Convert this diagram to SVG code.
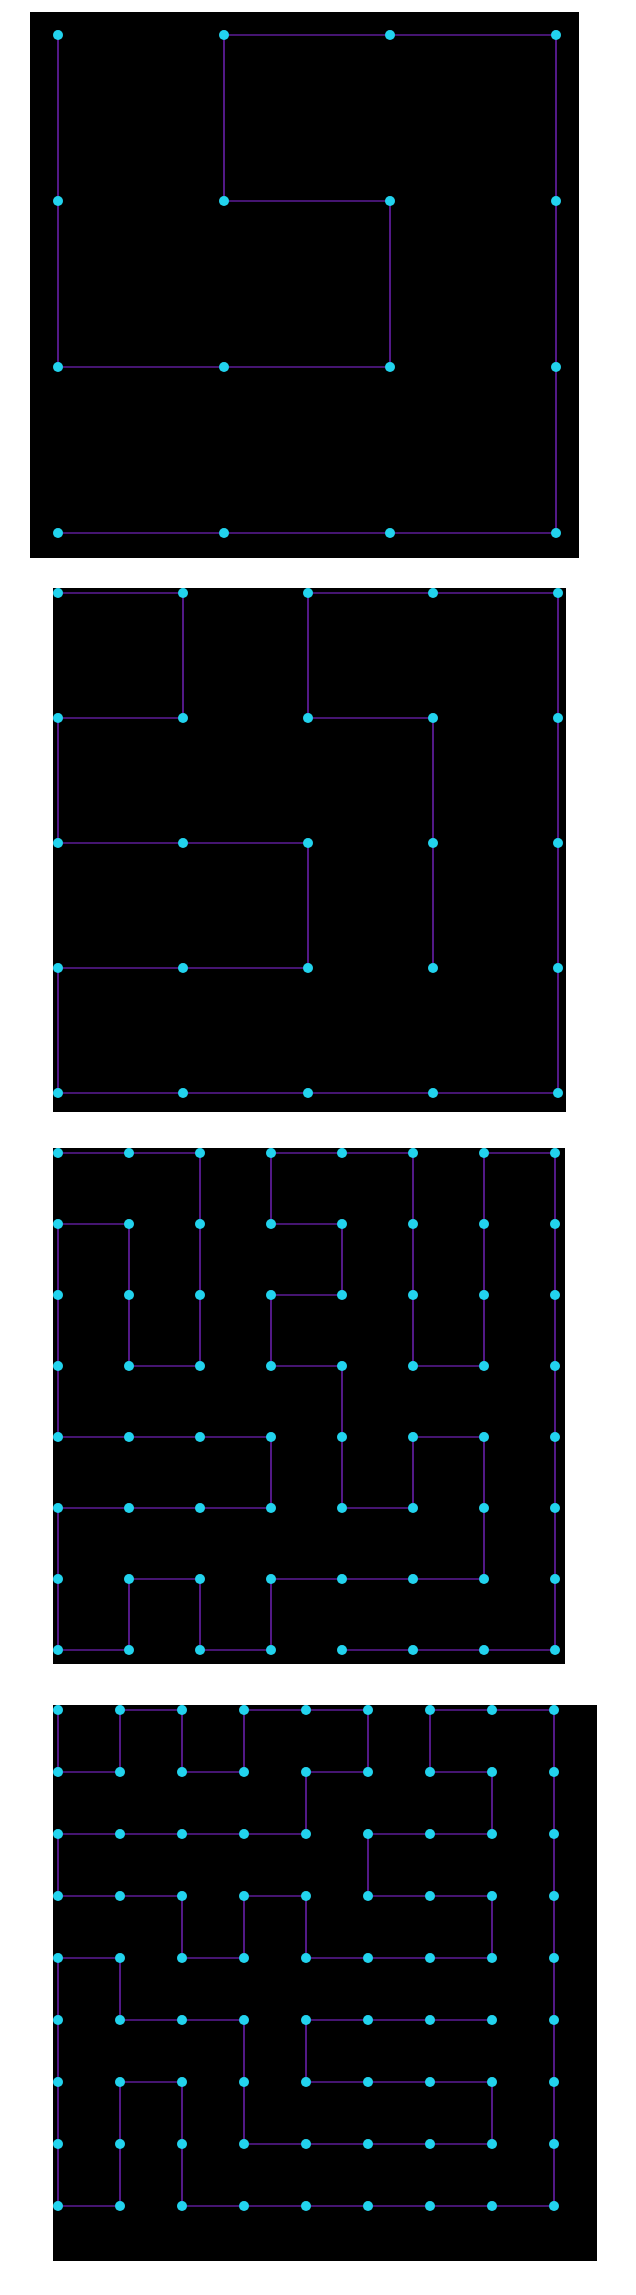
<svg xmlns="http://www.w3.org/2000/svg" width="636" height="2295" viewBox="0 0 636 2295">
<style>
.bg{fill:#000}
.e path{stroke:#8a2be2;stroke-width:1.2;fill:none}
.n circle{fill:#22d3ee}
</style>
<rect width="636" height="2295" fill="#fff"/>
<rect class="bg" x="30" y="12" width="549" height="546"/>
<rect class="bg" x="53" y="588" width="513" height="524"/>
<rect class="bg" x="53" y="1148" width="512" height="516"/>
<rect class="bg" x="53" y="1705" width="544" height="556"/>
<g id="connectors" class="e">
<g id="p1-edges">
<path d="M58 35V201"/><path d="M58 201V367"/><path d="M224 35H390"/><path d="M390 35H556"/><path d="M224 35V201"/><path d="M224 201H390"/><path d="M390 201V367"/><path d="M58 367H224"/><path d="M224 367H390"/><path d="M556 35V201"/><path d="M556 201V367"/><path d="M556 367V533"/><path d="M58 533H224"/><path d="M224 533H390"/><path d="M390 533H556"/>
</g>
<g id="p2-edges">
<path d="M58 593H183"/><path d="M183 593V718"/><path d="M308 593H433"/><path d="M433 593H558"/><path d="M308 593V718"/><path d="M558 593V718"/>
<path d="M58 718H183"/><path d="M308 718H433"/><path d="M433 718V843"/><path d="M558 718V843"/><path d="M58 718V843"/>
<path d="M58 843H183"/><path d="M183 843H308"/><path d="M308 843V968"/><path d="M433 843V968"/><path d="M558 843V968"/>
<path d="M58 968H183"/><path d="M183 968H308"/><path d="M58 968V1093"/><path d="M558 968V1093"/>
<path d="M58 1093H183"/><path d="M183 1093H308"/><path d="M308 1093H433"/><path d="M433 1093H558"/>
</g>
<g id="p3-edges">
<path d="M58 1153H129"/><path d="M129 1153H200"/><path d="M271 1153H342"/><path d="M342 1153H413"/><path d="M484 1153H555"/>
<path d="M200 1153V1224"/><path d="M271 1153V1224"/><path d="M413 1153V1224"/><path d="M484 1153V1224"/><path d="M555 1153V1224"/>
<path d="M58 1224H129"/><path d="M271 1224H342"/>
<path d="M58 1224V1295"/><path d="M129 1224V1295"/><path d="M200 1224V1295"/><path d="M342 1224V1295"/><path d="M413 1224V1295"/><path d="M484 1224V1295"/><path d="M555 1224V1295"/>
<path d="M271 1295H342"/>
<path d="M58 1295V1366"/><path d="M129 1295V1366"/><path d="M200 1295V1366"/><path d="M271 1295V1366"/><path d="M413 1295V1366"/><path d="M484 1295V1366"/><path d="M555 1295V1366"/>
<path d="M129 1366H200"/><path d="M271 1366H342"/><path d="M413 1366H484"/>
<path d="M58 1366V1437"/><path d="M342 1366V1437"/><path d="M555 1366V1437"/>
<path d="M58 1437H129"/><path d="M129 1437H200"/><path d="M200 1437H271"/><path d="M413 1437H484"/>
<path d="M271 1437V1508"/><path d="M342 1437V1508"/><path d="M413 1437V1508"/><path d="M484 1437V1508"/><path d="M555 1437V1508"/>
<path d="M58 1508H129"/><path d="M129 1508H200"/><path d="M200 1508H271"/><path d="M342 1508H413"/>
<path d="M58 1508V1579"/><path d="M484 1508V1579"/><path d="M555 1508V1579"/>
<path d="M129 1579H200"/><path d="M271 1579H342"/><path d="M342 1579H413"/><path d="M413 1579H484"/>
<path d="M58 1579V1650"/><path d="M129 1579V1650"/><path d="M200 1579V1650"/><path d="M271 1579V1650"/><path d="M555 1579V1650"/>
<path d="M58 1650H129"/><path d="M200 1650H271"/><path d="M342 1650H413"/><path d="M413 1650H484"/><path d="M484 1650H555"/>
</g>
<g id="p4-edges">
<path d="M120 1710H182"/><path d="M244 1710H306"/><path d="M306 1710H368"/><path d="M430 1710H492"/><path d="M492 1710H554"/>
<path d="M58 1710V1772"/><path d="M120 1710V1772"/><path d="M182 1710V1772"/><path d="M244 1710V1772"/><path d="M368 1710V1772"/><path d="M430 1710V1772"/><path d="M554 1710V1772"/>
<path d="M58 1772H120"/><path d="M182 1772H244"/><path d="M306 1772H368"/><path d="M430 1772H492"/>
<path d="M306 1772V1834"/><path d="M492 1772V1834"/><path d="M554 1772V1834"/>
<path d="M58 1834H120"/><path d="M120 1834H182"/><path d="M182 1834H244"/><path d="M244 1834H306"/><path d="M368 1834H430"/><path d="M430 1834H492"/>
<path d="M58 1834V1896"/><path d="M368 1834V1896"/><path d="M554 1834V1896"/>
<path d="M58 1896H120"/><path d="M120 1896H182"/><path d="M244 1896H306"/><path d="M368 1896H430"/><path d="M430 1896H492"/>
<path d="M182 1896V1958"/><path d="M244 1896V1958"/><path d="M306 1896V1958"/><path d="M492 1896V1958"/><path d="M554 1896V1958"/>
<path d="M58 1958H120"/><path d="M182 1958H244"/><path d="M306 1958H368"/><path d="M368 1958H430"/><path d="M430 1958H492"/>
<path d="M58 1958V2020"/><path d="M120 1958V2020"/><path d="M554 1958V2020"/>
<path d="M120 2020H182"/><path d="M182 2020H244"/><path d="M306 2020H368"/><path d="M368 2020H430"/><path d="M430 2020H492"/>
<path d="M58 2020V2082"/><path d="M244 2020V2082"/><path d="M306 2020V2082"/><path d="M554 2020V2082"/>
<path d="M120 2082H182"/><path d="M306 2082H368"/><path d="M368 2082H430"/><path d="M430 2082H492"/>
<path d="M58 2082V2144"/><path d="M120 2082V2144"/><path d="M182 2082V2144"/><path d="M244 2082V2144"/><path d="M492 2082V2144"/><path d="M554 2082V2144"/>
<path d="M244 2144H306"/><path d="M306 2144H368"/><path d="M368 2144H430"/><path d="M430 2144H492"/>
<path d="M58 2144V2206"/><path d="M120 2144V2206"/><path d="M182 2144V2206"/><path d="M554 2144V2206"/>
<path d="M58 2206H120"/><path d="M182 2206H244"/><path d="M244 2206H306"/><path d="M306 2206H368"/><path d="M368 2206H430"/><path d="M430 2206H492"/><path d="M492 2206H554"/>
</g>
</g>
<g id="nodes" class="n">
<g id="p1-0-0"><circle cx="58" cy="35" r="5"/></g><g id="p1-0-1"><circle cx="224" cy="35" r="5"/></g><g id="p1-0-2"><circle cx="390" cy="35" r="5"/></g><g id="p1-0-3"><circle cx="556" cy="35" r="5"/></g>
<g id="p1-1-0"><circle cx="58" cy="201" r="5"/></g><g id="p1-1-1"><circle cx="224" cy="201" r="5"/></g><g id="p1-1-2"><circle cx="390" cy="201" r="5"/></g><g id="p1-1-3"><circle cx="556" cy="201" r="5"/></g>
<g id="p1-2-0"><circle cx="58" cy="367" r="5"/></g><g id="p1-2-1"><circle cx="224" cy="367" r="5"/></g><g id="p1-2-2"><circle cx="390" cy="367" r="5"/></g><g id="p1-2-3"><circle cx="556" cy="367" r="5"/></g>
<g id="p1-3-0"><circle cx="58" cy="533" r="5"/></g><g id="p1-3-1"><circle cx="224" cy="533" r="5"/></g><g id="p1-3-2"><circle cx="390" cy="533" r="5"/></g><g id="p1-3-3"><circle cx="556" cy="533" r="5"/></g>

<g id="p2-0-0"><circle cx="58" cy="593" r="5"/></g><g id="p2-0-1"><circle cx="183" cy="593" r="5"/></g><g id="p2-0-2"><circle cx="308" cy="593" r="5"/></g><g id="p2-0-3"><circle cx="433" cy="593" r="5"/></g><g id="p2-0-4"><circle cx="558" cy="593" r="5"/></g>
<g id="p2-1-0"><circle cx="58" cy="718" r="5"/></g><g id="p2-1-1"><circle cx="183" cy="718" r="5"/></g><g id="p2-1-2"><circle cx="308" cy="718" r="5"/></g><g id="p2-1-3"><circle cx="433" cy="718" r="5"/></g><g id="p2-1-4"><circle cx="558" cy="718" r="5"/></g>
<g id="p2-2-0"><circle cx="58" cy="843" r="5"/></g><g id="p2-2-1"><circle cx="183" cy="843" r="5"/></g><g id="p2-2-2"><circle cx="308" cy="843" r="5"/></g><g id="p2-2-3"><circle cx="433" cy="843" r="5"/></g><g id="p2-2-4"><circle cx="558" cy="843" r="5"/></g>
<g id="p2-3-0"><circle cx="58" cy="968" r="5"/></g><g id="p2-3-1"><circle cx="183" cy="968" r="5"/></g><g id="p2-3-2"><circle cx="308" cy="968" r="5"/></g><g id="p2-3-3"><circle cx="433" cy="968" r="5"/></g><g id="p2-3-4"><circle cx="558" cy="968" r="5"/></g>
<g id="p2-4-0"><circle cx="58" cy="1093" r="5"/></g><g id="p2-4-1"><circle cx="183" cy="1093" r="5"/></g><g id="p2-4-2"><circle cx="308" cy="1093" r="5"/></g><g id="p2-4-3"><circle cx="433" cy="1093" r="5"/></g><g id="p2-4-4"><circle cx="558" cy="1093" r="5"/></g>

<g id="p3-0-0"><circle cx="58" cy="1153" r="5"/></g><g id="p3-0-1"><circle cx="129" cy="1153" r="5"/></g><g id="p3-0-2"><circle cx="200" cy="1153" r="5"/></g><g id="p3-0-3"><circle cx="271" cy="1153" r="5"/></g><g id="p3-0-4"><circle cx="342" cy="1153" r="5"/></g><g id="p3-0-5"><circle cx="413" cy="1153" r="5"/></g><g id="p3-0-6"><circle cx="484" cy="1153" r="5"/></g><g id="p3-0-7"><circle cx="555" cy="1153" r="5"/></g>
<g id="p3-1-0"><circle cx="58" cy="1224" r="5"/></g><g id="p3-1-1"><circle cx="129" cy="1224" r="5"/></g><g id="p3-1-2"><circle cx="200" cy="1224" r="5"/></g><g id="p3-1-3"><circle cx="271" cy="1224" r="5"/></g><g id="p3-1-4"><circle cx="342" cy="1224" r="5"/></g><g id="p3-1-5"><circle cx="413" cy="1224" r="5"/></g><g id="p3-1-6"><circle cx="484" cy="1224" r="5"/></g><g id="p3-1-7"><circle cx="555" cy="1224" r="5"/></g>
<g id="p3-2-0"><circle cx="58" cy="1295" r="5"/></g><g id="p3-2-1"><circle cx="129" cy="1295" r="5"/></g><g id="p3-2-2"><circle cx="200" cy="1295" r="5"/></g><g id="p3-2-3"><circle cx="271" cy="1295" r="5"/></g><g id="p3-2-4"><circle cx="342" cy="1295" r="5"/></g><g id="p3-2-5"><circle cx="413" cy="1295" r="5"/></g><g id="p3-2-6"><circle cx="484" cy="1295" r="5"/></g><g id="p3-2-7"><circle cx="555" cy="1295" r="5"/></g>
<g id="p3-3-0"><circle cx="58" cy="1366" r="5"/></g><g id="p3-3-1"><circle cx="129" cy="1366" r="5"/></g><g id="p3-3-2"><circle cx="200" cy="1366" r="5"/></g><g id="p3-3-3"><circle cx="271" cy="1366" r="5"/></g><g id="p3-3-4"><circle cx="342" cy="1366" r="5"/></g><g id="p3-3-5"><circle cx="413" cy="1366" r="5"/></g><g id="p3-3-6"><circle cx="484" cy="1366" r="5"/></g><g id="p3-3-7"><circle cx="555" cy="1366" r="5"/></g>
<g id="p3-4-0"><circle cx="58" cy="1437" r="5"/></g><g id="p3-4-1"><circle cx="129" cy="1437" r="5"/></g><g id="p3-4-2"><circle cx="200" cy="1437" r="5"/></g><g id="p3-4-3"><circle cx="271" cy="1437" r="5"/></g><g id="p3-4-4"><circle cx="342" cy="1437" r="5"/></g><g id="p3-4-5"><circle cx="413" cy="1437" r="5"/></g><g id="p3-4-6"><circle cx="484" cy="1437" r="5"/></g><g id="p3-4-7"><circle cx="555" cy="1437" r="5"/></g>
<g id="p3-5-0"><circle cx="58" cy="1508" r="5"/></g><g id="p3-5-1"><circle cx="129" cy="1508" r="5"/></g><g id="p3-5-2"><circle cx="200" cy="1508" r="5"/></g><g id="p3-5-3"><circle cx="271" cy="1508" r="5"/></g><g id="p3-5-4"><circle cx="342" cy="1508" r="5"/></g><g id="p3-5-5"><circle cx="413" cy="1508" r="5"/></g><g id="p3-5-6"><circle cx="484" cy="1508" r="5"/></g><g id="p3-5-7"><circle cx="555" cy="1508" r="5"/></g>
<g id="p3-6-0"><circle cx="58" cy="1579" r="5"/></g><g id="p3-6-1"><circle cx="129" cy="1579" r="5"/></g><g id="p3-6-2"><circle cx="200" cy="1579" r="5"/></g><g id="p3-6-3"><circle cx="271" cy="1579" r="5"/></g><g id="p3-6-4"><circle cx="342" cy="1579" r="5"/></g><g id="p3-6-5"><circle cx="413" cy="1579" r="5"/></g><g id="p3-6-6"><circle cx="484" cy="1579" r="5"/></g><g id="p3-6-7"><circle cx="555" cy="1579" r="5"/></g>
<g id="p3-7-0"><circle cx="58" cy="1650" r="5"/></g><g id="p3-7-1"><circle cx="129" cy="1650" r="5"/></g><g id="p3-7-2"><circle cx="200" cy="1650" r="5"/></g><g id="p3-7-3"><circle cx="271" cy="1650" r="5"/></g><g id="p3-7-4"><circle cx="342" cy="1650" r="5"/></g><g id="p3-7-5"><circle cx="413" cy="1650" r="5"/></g><g id="p3-7-6"><circle cx="484" cy="1650" r="5"/></g><g id="p3-7-7"><circle cx="555" cy="1650" r="5"/></g>

<g id="p4-0-0"><circle cx="58" cy="1710" r="5"/></g><g id="p4-0-1"><circle cx="120" cy="1710" r="5"/></g><g id="p4-0-2"><circle cx="182" cy="1710" r="5"/></g><g id="p4-0-3"><circle cx="244" cy="1710" r="5"/></g><g id="p4-0-4"><circle cx="306" cy="1710" r="5"/></g><g id="p4-0-5"><circle cx="368" cy="1710" r="5"/></g><g id="p4-0-6"><circle cx="430" cy="1710" r="5"/></g><g id="p4-0-7"><circle cx="492" cy="1710" r="5"/></g><g id="p4-0-8"><circle cx="554" cy="1710" r="5"/></g>
<g id="p4-1-0"><circle cx="58" cy="1772" r="5"/></g><g id="p4-1-1"><circle cx="120" cy="1772" r="5"/></g><g id="p4-1-2"><circle cx="182" cy="1772" r="5"/></g><g id="p4-1-3"><circle cx="244" cy="1772" r="5"/></g><g id="p4-1-4"><circle cx="306" cy="1772" r="5"/></g><g id="p4-1-5"><circle cx="368" cy="1772" r="5"/></g><g id="p4-1-6"><circle cx="430" cy="1772" r="5"/></g><g id="p4-1-7"><circle cx="492" cy="1772" r="5"/></g><g id="p4-1-8"><circle cx="554" cy="1772" r="5"/></g>
<g id="p4-2-0"><circle cx="58" cy="1834" r="5"/></g><g id="p4-2-1"><circle cx="120" cy="1834" r="5"/></g><g id="p4-2-2"><circle cx="182" cy="1834" r="5"/></g><g id="p4-2-3"><circle cx="244" cy="1834" r="5"/></g><g id="p4-2-4"><circle cx="306" cy="1834" r="5"/></g><g id="p4-2-5"><circle cx="368" cy="1834" r="5"/></g><g id="p4-2-6"><circle cx="430" cy="1834" r="5"/></g><g id="p4-2-7"><circle cx="492" cy="1834" r="5"/></g><g id="p4-2-8"><circle cx="554" cy="1834" r="5"/></g>
<g id="p4-3-0"><circle cx="58" cy="1896" r="5"/></g><g id="p4-3-1"><circle cx="120" cy="1896" r="5"/></g><g id="p4-3-2"><circle cx="182" cy="1896" r="5"/></g><g id="p4-3-3"><circle cx="244" cy="1896" r="5"/></g><g id="p4-3-4"><circle cx="306" cy="1896" r="5"/></g><g id="p4-3-5"><circle cx="368" cy="1896" r="5"/></g><g id="p4-3-6"><circle cx="430" cy="1896" r="5"/></g><g id="p4-3-7"><circle cx="492" cy="1896" r="5"/></g><g id="p4-3-8"><circle cx="554" cy="1896" r="5"/></g>
<g id="p4-4-0"><circle cx="58" cy="1958" r="5"/></g><g id="p4-4-1"><circle cx="120" cy="1958" r="5"/></g><g id="p4-4-2"><circle cx="182" cy="1958" r="5"/></g><g id="p4-4-3"><circle cx="244" cy="1958" r="5"/></g><g id="p4-4-4"><circle cx="306" cy="1958" r="5"/></g><g id="p4-4-5"><circle cx="368" cy="1958" r="5"/></g><g id="p4-4-6"><circle cx="430" cy="1958" r="5"/></g><g id="p4-4-7"><circle cx="492" cy="1958" r="5"/></g><g id="p4-4-8"><circle cx="554" cy="1958" r="5"/></g>
<g id="p4-5-0"><circle cx="58" cy="2020" r="5"/></g><g id="p4-5-1"><circle cx="120" cy="2020" r="5"/></g><g id="p4-5-2"><circle cx="182" cy="2020" r="5"/></g><g id="p4-5-3"><circle cx="244" cy="2020" r="5"/></g><g id="p4-5-4"><circle cx="306" cy="2020" r="5"/></g><g id="p4-5-5"><circle cx="368" cy="2020" r="5"/></g><g id="p4-5-6"><circle cx="430" cy="2020" r="5"/></g><g id="p4-5-7"><circle cx="492" cy="2020" r="5"/></g><g id="p4-5-8"><circle cx="554" cy="2020" r="5"/></g>
<g id="p4-6-0"><circle cx="58" cy="2082" r="5"/></g><g id="p4-6-1"><circle cx="120" cy="2082" r="5"/></g><g id="p4-6-2"><circle cx="182" cy="2082" r="5"/></g><g id="p4-6-3"><circle cx="244" cy="2082" r="5"/></g><g id="p4-6-4"><circle cx="306" cy="2082" r="5"/></g><g id="p4-6-5"><circle cx="368" cy="2082" r="5"/></g><g id="p4-6-6"><circle cx="430" cy="2082" r="5"/></g><g id="p4-6-7"><circle cx="492" cy="2082" r="5"/></g><g id="p4-6-8"><circle cx="554" cy="2082" r="5"/></g>
<g id="p4-7-0"><circle cx="58" cy="2144" r="5"/></g><g id="p4-7-1"><circle cx="120" cy="2144" r="5"/></g><g id="p4-7-2"><circle cx="182" cy="2144" r="5"/></g><g id="p4-7-3"><circle cx="244" cy="2144" r="5"/></g><g id="p4-7-4"><circle cx="306" cy="2144" r="5"/></g><g id="p4-7-5"><circle cx="368" cy="2144" r="5"/></g><g id="p4-7-6"><circle cx="430" cy="2144" r="5"/></g><g id="p4-7-7"><circle cx="492" cy="2144" r="5"/></g><g id="p4-7-8"><circle cx="554" cy="2144" r="5"/></g>
<g id="p4-8-0"><circle cx="58" cy="2206" r="5"/></g><g id="p4-8-1"><circle cx="120" cy="2206" r="5"/></g><g id="p4-8-2"><circle cx="182" cy="2206" r="5"/></g><g id="p4-8-3"><circle cx="244" cy="2206" r="5"/></g><g id="p4-8-4"><circle cx="306" cy="2206" r="5"/></g><g id="p4-8-5"><circle cx="368" cy="2206" r="5"/></g><g id="p4-8-6"><circle cx="430" cy="2206" r="5"/></g><g id="p4-8-7"><circle cx="492" cy="2206" r="5"/></g><g id="p4-8-8"><circle cx="554" cy="2206" r="5"/></g>
</g>
</svg>
